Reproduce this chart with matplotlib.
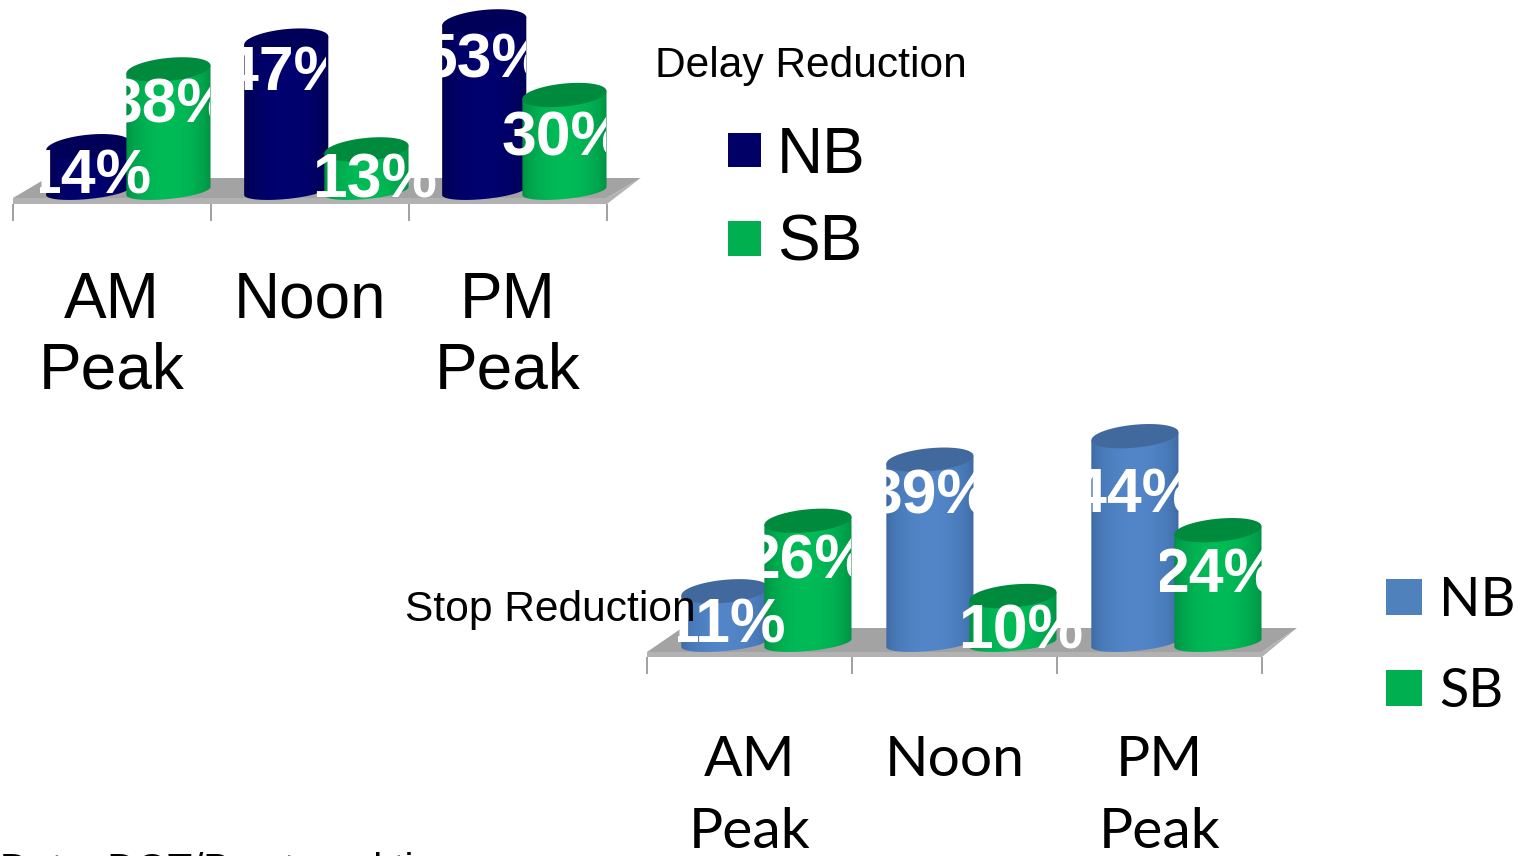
import numpy as np
import matplotlib
matplotlib.use('Agg')
import matplotlib.pyplot as plt
from matplotlib.patches import Patch, Polygon
from matplotlib.transforms import Bbox

W, H = 1522, 856

periods = ['AM\nPeak', 'Noon', 'PM\nPeak']
series = ['NB', 'SB']

delay_nb = [14, 47, 53]
delay_sb = [38, 13, 30]
stop_nb = [11, 39, 44]
stop_sb = [26, 10, 24]

NAVY = {'edge': '#00004e', 'mid': '#000070', 'top': '#000058', 'swatch': '#000066'}
BLUE = {'edge': '#3d69a4', 'mid': '#5286c8', 'top': '#41699d', 'swatch': '#4f81bd'}
GREEN = {'edge': '#008f41', 'mid': '#00bb57', 'top': '#008a3e', 'swatch': '#00b050'}

BAR_W = 0.425
OFFSETS = (-0.12, 0.285)

plt.rcParams['font.family'] = ['Liberation Sans', 'DejaVu Sans']
fig = plt.figure(figsize=(W / 100, H / 100), dpi=100)


def gradient(c):
    rgb0 = np.array(matplotlib.colors.to_rgb(c['edge']))
    rgb1 = np.array(matplotlib.colors.to_rgb(c['mid']))
    t = np.sin(np.linspace(0, np.pi, 64))[None, :, None] ** 0.6
    return rgb0 + (rgb1 - rgb0) * t


def cylinder(ax, xc, val, c, scale, z):
    # body with a shaded front, then the darker lid
    rx = BAR_W / 2
    ry_top, ry_bot, tilt = 11.5 / scale, 8 / scale, 4 / scale
    a = np.linspace(np.pi, 2 * np.pi, 60)
    bx, by = xc + rx * np.cos(a), ry_bot * np.sin(a) + tilt * np.cos(a)
    px = np.r_[xc - rx, bx, xc + rx]
    py = np.r_[val - tilt, by, val + tilt]
    body = Polygon(np.c_[px, py], transform=ax.transData, fc='none', ec='none')
    ax.add_patch(body)
    im = ax.imshow(gradient(c), extent=(xc - rx, xc + rx, -ry_bot * 2, val + tilt), aspect='auto',
                   zorder=z, interpolation='bilinear')
    im.set_clip_path(body)
    b = np.linspace(0, 2 * np.pi, 80)
    tx = xc + rx * np.cos(b)
    ty = val + ry_top * np.sin(b) + tilt * np.cos(b)
    ax.add_patch(Polygon(np.c_[tx, ty], fc=c['top'], ec='none', zorder=z + 0.1))


def chart(left, right, base, scale, floor_top, floor_front, strip, nb, sb, colors, font, tick_fs,
          linespacing, pad, labels_dy, labels_dx, labels_clip):
    bottom_px = floor_front + strip
    ax = fig.add_axes([left / W, 1 - bottom_px / H, (right - left) / W, bottom_px / H])
    ylim = (-(bottom_px - base) / scale, base / scale)
    ax.patch.set_visible(False)
    for s in ax.spines.values():
        s.set_visible(False)
    ax.set_yticks([])

    # grey floor and its front edge
    f0, f1 = (base - floor_front) / scale, (base - floor_top) / scale
    f2 = ylim[0]
    ax.add_patch(Polygon([(-0.5, f0), (-0.33, f1), (2.67, f1), (2.5, f0)], fc='#a3a3a3', ec='none',
                         zorder=1, clip_on=False))
    ax.add_patch(Polygon([(-0.5, f0), (2.5, f0), (2.67, f1), (2.5, f2), (-0.5, f2)],
                         fc='#b2b2b2', ec='none', zorder=1, clip_on=False))

    ax.set_xticks([-0.5, 0.5, 1.5, 2.5])
    ax.set_xticklabels([])
    ax.tick_params(axis='x', which='major', length=12, width=1.3, color='#999999')
    ax.set_xticks([0, 1, 2], minor=True)
    ax.set_xticklabels(periods, minor=True, fontsize=tick_fs, family=font, linespacing=linespacing)
    ax.tick_params(axis='x', which='minor', length=0, pad=pad)

    xs = np.arange(3)
    k = 0
    for j, vals in enumerate([nb, sb]):
        for i, v in enumerate(vals):
            cylinder(ax, xs[i] + OFFSETS[j], v, colors[j], scale, 2 + j + i * 0.01)
    ax.set_xlim(-0.5, 2.5)
    ax.set_ylim(*ylim)

    # value labels, cut off at their own boxes
    for j, vals in enumerate([nb, sb]):
        for i, v in enumerate(vals):
            t = ax.annotate(f'{v}%', (xs[i] + OFFSETS[j], v), xytext=(labels_dx[k], -labels_dy[k]),
                            textcoords='offset pixels', ha='center', va='center', color='white',
                            fontsize=45, fontweight='bold', zorder=10)
            t.set_clip_box(Bbox.from_extents(labels_clip[k][0], 0, labels_clip[k][1], H))
            t.set_clip_on(True)
            k += 1
    return ax


chart(13, 607, 191, 3.2, 178, 198, 6, delay_nb, delay_sb, (NAVY, GREEN), 'Liberation Sans', 46, 1.23, 48,
      [31, 33, 40, 37, 32, 44], [0, 0, 0, 2, 8, 0],
      [(40, 200), (232, 326), (432, 526), (118, 210), (300, 445), (500, 606)])
chart(647, 1262, 643, 4.7, 628, 652, 5, stop_nb, stop_sb, (BLUE, GREEN), 'Lato', 41, 1.52, 56,
      [35, 37, 60, 41, 36, 46], [0, 0, 0, 0, 8, 0],
      [(678, 790), (878, 980), (1090, 1184), (757, 851), (950, 1095), (1160, 1262)])

fig.text(655 / W, 1 - 77 / H, 'Delay Reduction', fontsize=30.6, color='black')
fig.text(405 / W, 1 - 621 / H, 'Stop Reduction', fontsize=30.6, color='black', zorder=9)
fig.text(0, 1 - 882 / H, 'Data: DOT/Bus travel time', fontsize=29, color='black')

fig.legend(handles=[Patch(fc=NAVY['swatch'], label=series[0]), Patch(fc=GREEN['swatch'], label=series[1])],
           loc='upper left', bbox_to_anchor=(715 / W, 1 - 113 / H), frameon=False, fontsize=46,
           handlelength=0.52, handleheight=0.46, handletextpad=0.245, labelspacing=0.44,
           borderaxespad=0, borderpad=0.2)
fig.legend(handles=[Patch(fc=BLUE['swatch'], label=series[0]), Patch(fc=GREEN['swatch'], label=series[1])],
           loc='upper left', bbox_to_anchor=(1375 / W, 1 - 565 / H), frameon=False,
           prop={'family': 'Lato', 'size': 39},
           handlelength=0.66, handleheight=0.66, handletextpad=0.32, labelspacing=0.78,
           borderaxespad=0, borderpad=0.2)

fig.savefig('out.png', dpi=100)
